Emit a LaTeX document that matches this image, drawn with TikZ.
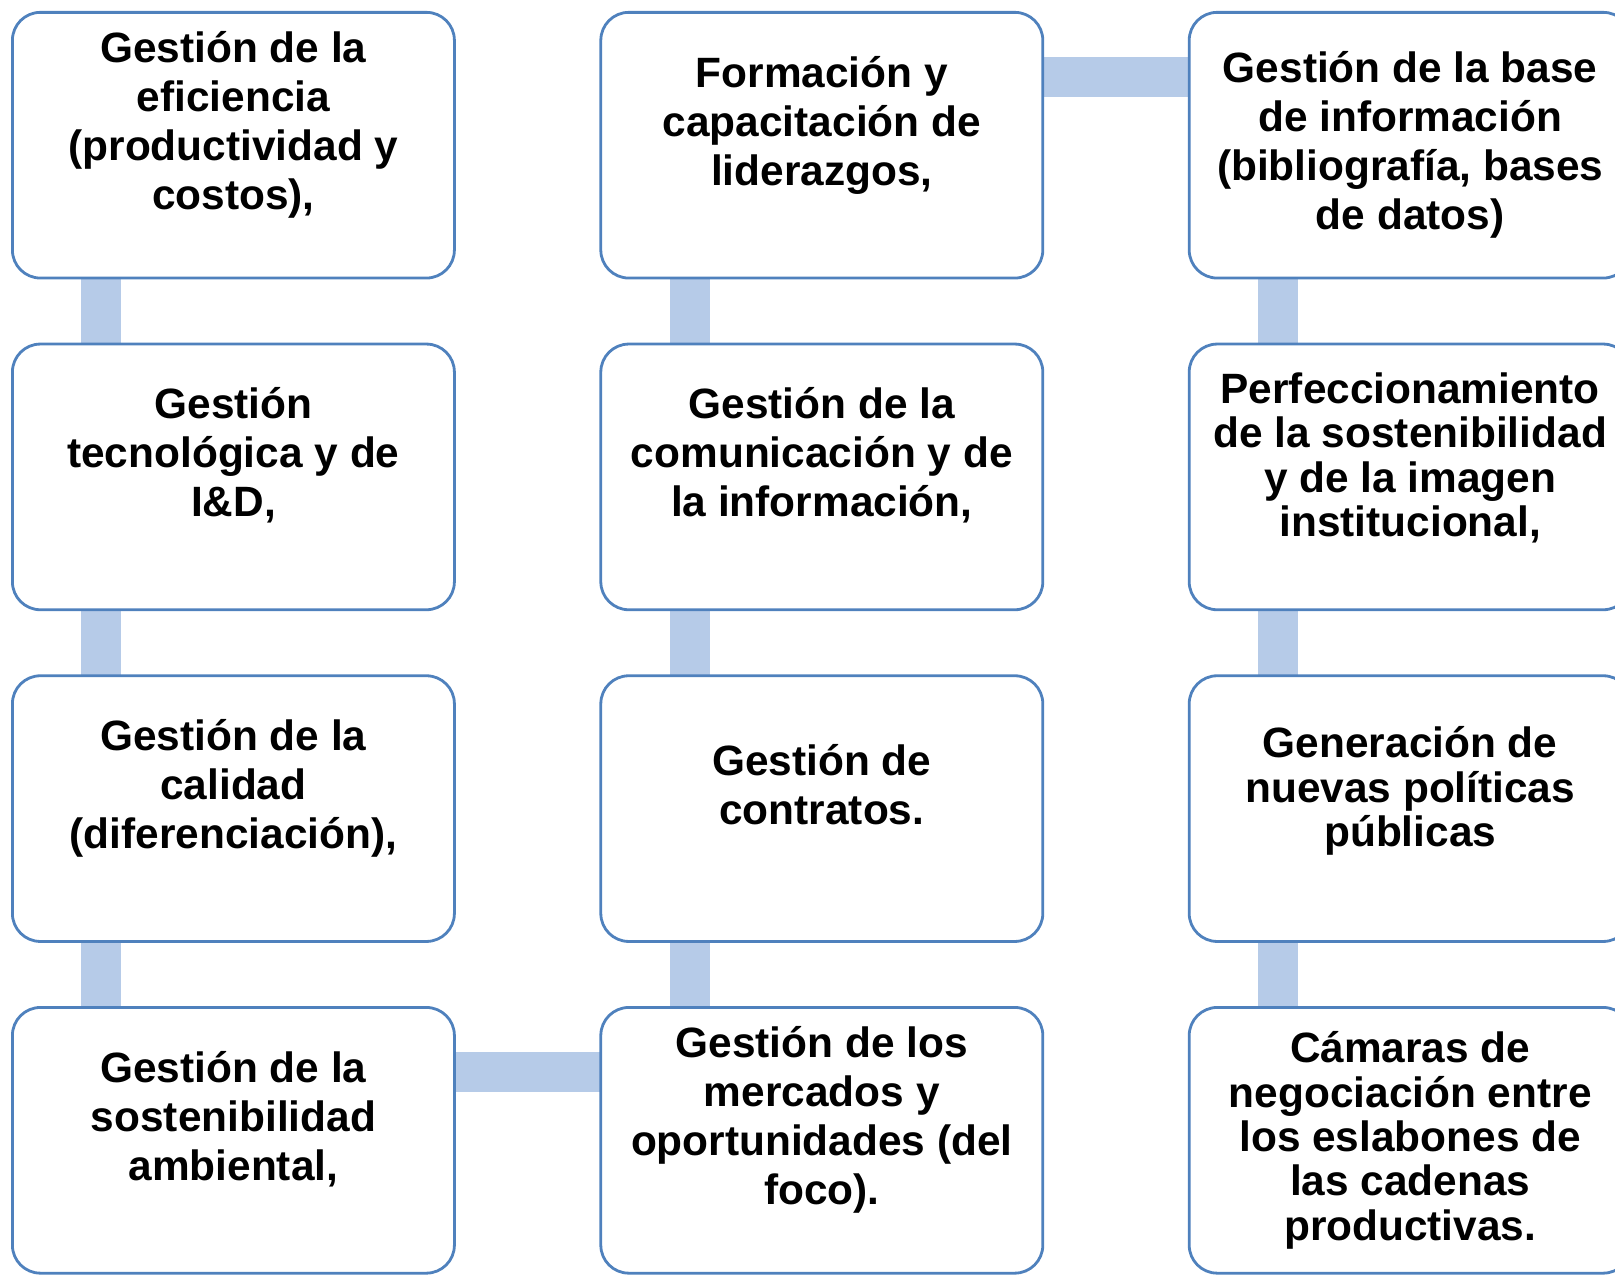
\documentclass[tikz,border=0pt]{standalone}
\usepackage{fontspec}
\setmainfont{Liberation Sans}
\usetikzlibrary{positioning,backgrounds}
\definecolor{boxblue}{RGB}{79,129,189}
\definecolor{barblue}{RGB}{182,203,232}
\tikzset{
  stage/.style={rectangle, draw=boxblue, line width=1.4pt, rounded corners=14pt, fill=white, minimum width=221pt, minimum height=132.85pt, outer sep=0pt, inner sep=0pt, align=center, font=\bfseries\fontsize{21.2}{24.5}\selectfont},
  tight/.style={font=\bfseries\fontsize{21.2}{22.15}\selectfont},
  link/.style={draw=barblue, line width=20pt}
}
\begin{document}
\begin{tikzpicture}[node distance=33pt and 73.2pt]
\useasboundingbox (0,0) rectangle (807.5pt,-637pt);
\clip (0,0) rectangle (807.5pt,-637pt);

\node[stage] (c1r1) at (116.7pt,-72.6pt) {Gestión de la\\eficiencia\\(productividad y\\costos),\\\mbox{}};
\node[stage, below=of c1r1] (c1r2) {Gestión\\tecnológica y de\\I\&D,\\\mbox{}};
\node[stage, below=of c1r2] (c1r3) {Gestión de la\\calidad\\(diferenciación),\\\mbox{}};
\node[stage, below=of c1r3] (c1r4) {Gestión de la\\sostenibilidad\\ambiental,\\\mbox{}};

\node[stage, right=of c1r1] (c2r1) {Formación y\\capacitación de\\liderazgos,\\\mbox{}};
\node[stage, right=of c1r2] (c2r2) {Gestión de la\\comunicación y de\\la información,\\\mbox{}};
\node[stage, right=of c1r3] (c2r3) {Gestión de\\contratos.\\\mbox{}};
\node[stage, right=of c1r4] (c2r4) {Gestión de los\\mercados y\\oportunidades (del\\foco).\\\mbox{}};

\node[stage, right=of c2r1] (c3r1) {Gestión de la base\\de información\\(bibliografía, bases\\de datos)};
\node[stage, tight, right=of c2r2] (c3r2) {Perfeccionamiento\\de la sostenibilidad\\y de la imagen\\institucional,\\\mbox{}};
\node[stage, tight, right=of c2r3] (c3r3) {Generación de\\nuevas políticas\\públicas\\\mbox{}};
\node[stage, tight, right=of c2r4] (c3r4) {Cámaras de\\negociación entre\\los eslabones de\\las cadenas\\productivas.};

\begin{scope}[on background layer]
\draw[link] ([xshift=-66pt]c1r1.south) -- ([xshift=-66pt]c1r2.north);
\draw[link] ([xshift=-66pt]c1r2.south) -- ([xshift=-66pt]c1r3.north);
\draw[link] ([xshift=-66pt]c1r3.south) -- ([xshift=-66pt]c1r4.north);
\draw[link] ([yshift=34.3pt]c1r4.east) -- ([yshift=34.3pt]c2r4.west);
\draw[link] ([xshift=-66pt]c2r4.north) -- ([xshift=-66pt]c2r3.south);
\draw[link] ([xshift=-66pt]c2r3.north) -- ([xshift=-66pt]c2r2.south);
\draw[link] ([xshift=-66pt]c2r2.north) -- ([xshift=-66pt]c2r1.south);
\draw[link] ([yshift=34.3pt]c2r1.east) -- ([yshift=34.3pt]c3r1.west);
\draw[link] ([xshift=-66pt]c3r1.south) -- ([xshift=-66pt]c3r2.north);
\draw[link] ([xshift=-66pt]c3r2.south) -- ([xshift=-66pt]c3r3.north);
\draw[link] ([xshift=-66pt]c3r3.south) -- ([xshift=-66pt]c3r4.north);
\end{scope}
\end{tikzpicture}
\end{document}
